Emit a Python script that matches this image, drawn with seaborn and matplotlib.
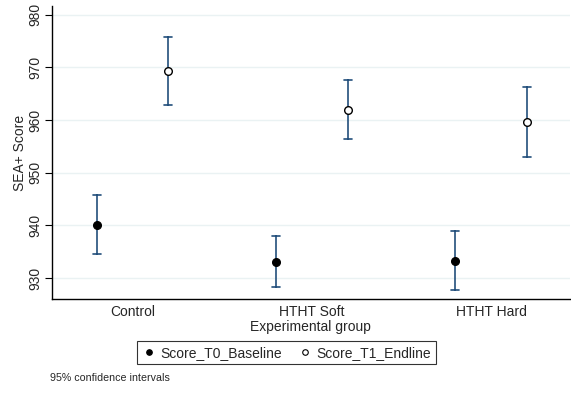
import seaborn as sns
import matplotlib.pyplot as plt
import pandas as pd

# Group means with 95% CI bounds
groups = ["Control", "HTHT Soft", "HTHT Hard"]
series = ["Score_T0_Baseline", "Score_T1_Endline"]
baseline_mean = [940.0, 933.0, 933.3]
baseline_lo = [934.5, 928.2, 927.7]
baseline_hi = [945.8, 938.0, 938.9]
endline_mean = [969.3, 962.0, 959.6]
endline_lo = [962.8, 956.5, 953.0]
endline_hi = [975.8, 967.7, 966.2]

# Long-form table: lo / mean / hi rows so median + 100% interval reproduce mean and CI
rows = []
for i, g in enumerate(groups):
    for s, m, lo, hi in [(series[0], baseline_mean, baseline_lo, baseline_hi),
                         (series[1], endline_mean, endline_lo, endline_hi)]:
        for v in (lo[i], m[i], hi[i]):
            rows.append({"group": g, "series": s, "score": v})
df = pd.DataFrame(rows)

sns.set_theme(style="white")
plt.rcParams["font.family"] = ["Liberation Sans", "DejaVu Sans"]

fig = plt.figure(figsize=(5.71, 3.94), dpi=100)
ax = fig.add_axes([0.091, 0.241, 0.907, 0.744])

err_color = "#224f7c"
sns.pointplot(data=df, x="group", y="score", hue="series", order=groups, hue_order=series,
              estimator="median", errorbar=("pi", 100), dodge=0.4, linestyle="none",
              markers="o", palette=["black", "black"], capsize=0.045,
              err_kws={"color": err_color, "linewidth": 1.2}, markersize=5.5,
              legend=False, ax=ax)

# Marker styling: filled for baseline, hollow for endline
point_lines = [ln for ln in ax.lines if ln.get_marker() == "o"]
for ln, face in zip(point_lines, ["black", "white"]):
    ln.set_markerfacecolor(face)
    ln.set_markeredgecolor("black")
    ln.set_markeredgewidth(1.0)
    ln.set_zorder(5)

ax.set_ylim(926, 981.7)
ax.set_xlim(-0.45, 2.44)
ax.set_yticks([930, 940, 950, 960, 970, 980])
ax.yaxis.grid(True, color="#eaf2f3", linewidth=1.0)
ax.set_axisbelow(True)
for side in ["top", "right"]:
    ax.spines[side].set_visible(False)
for side in ["left", "bottom"]:
    ax.spines[side].set_color("black")
    ax.spines[side].set_linewidth(1.0)

ax.tick_params(axis="y", length=5, width=0.8, color="black", pad=2, labelsize=10, left=True)
ax.tick_params(axis="x", length=0, pad=4, labelsize=10)
for lbl in ax.get_yticklabels():
    lbl.set_rotation(90)
    lbl.set_va("center")
ax.set_xlabel("Experimental group", fontsize=10, labelpad=1)
ax.set_ylabel("SEA+ Score", fontsize=10, labelpad=1)

# Legend box below the plot
handles = [plt.Line2D([], [], marker="o", linestyle="none", markersize=4,
                      markerfacecolor=f, markeredgecolor="black", markeredgewidth=0.8)
           for f in ["black", "white"]]
leg = fig.legend(handles, series, loc="center", bbox_to_anchor=(0.502, 0.105), ncol=2,
                 fontsize=10, frameon=True, fancybox=False, handletextpad=0.3,
                 columnspacing=1.2, handlelength=1.0, borderpad=0.35)
leg.get_frame().set_edgecolor("black")
leg.get_frame().set_linewidth(0.8)

fig.text(0.088, 0.04, "95% confidence intervals", fontsize=7.7, ha="left", va="center")

fig.savefig("out.png", dpi=100, facecolor="white")
